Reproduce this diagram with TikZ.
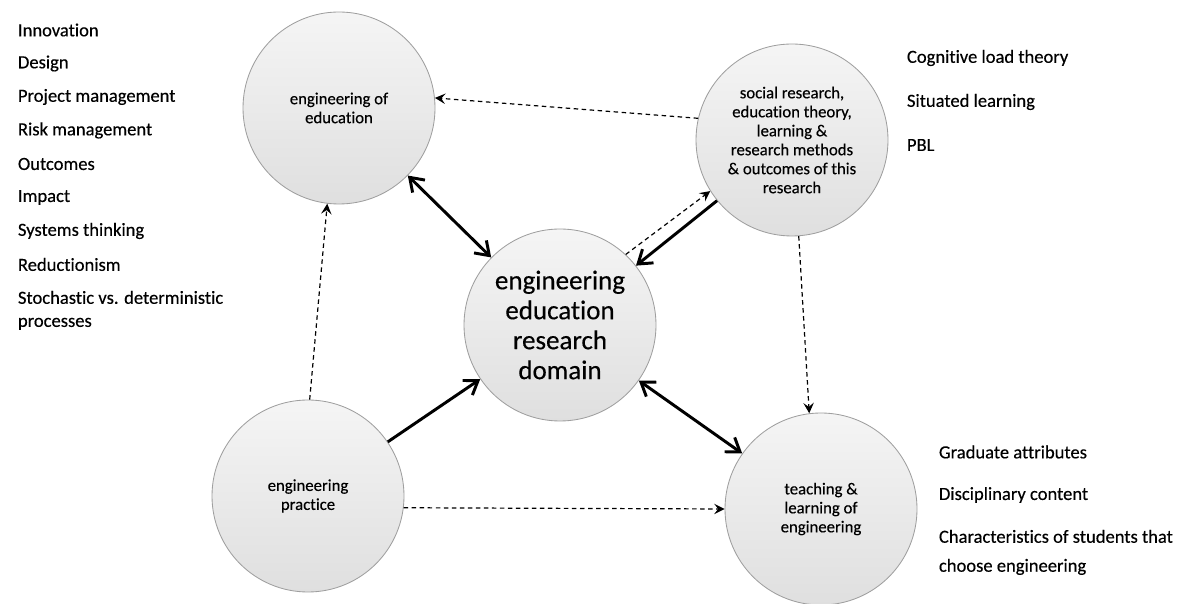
\documentclass[tikz,border=0pt]{standalone}
\usepackage{fontspec}
\setmainfont{Carlito}[Ligatures=NoCommon,FakeBold=0.35,BoldFont=Carlito]
\usetikzlibrary{arrows.meta}
\begin{document}
\begin{tikzpicture}[bubble/.style={circle,draw=gray!75,line width=0.6pt,top color=gray!8,bottom color=gray!25,minimum size=4.8cm,inner sep=0pt,align=center,font=\bfseries\fontsize{11.9}{13.5}\selectfont},
    item/.style={anchor=west,align=left,font=\bfseries\fontsize{13.2}{16.4}\selectfont},
    link/.style={line width=2.1pt},
    hint/.style={line width=0.85pt,dash pattern=on 3.2pt off 2.5pt,-{Stealth[length=2.6mm,width=2.6mm,inset=1mm]}},
    >={Straight Barb[length=3.2mm,width=4.4mm]}]

       \useasboundingbox (0,0) rectangle (29.5,15.1);

       \node[bubble] (edu) at (8.475, 12.4) {engineering of\\education};
       \node[bubble] (soc) at (19.8, 11.6) {social research,\\education theory,\\learning \&\\research methods\\\& outcomes of this\\research};
       \node[bubble,font=\bfseries\fontsize{19.2}{21.3}\selectfont] (eer) at (14.0, 6.975) {engineering\\education\\research\\domain};
       \node[bubble] (prac) at (7.7, 2.7) {engineering\\practice};
       \node[bubble] (teach) at (20.525, 2.375) {teaching \&\\learning of\\engineering};

       \foreach \txt [count=\i from 0] in {Innovation,Design,Project management,Risk management,Outcomes,Impact,Systems thinking,Reductionism}
         \node[item] (l\i) at (0.325, 14.35-0.8375*\i) {\txt};
       \node[item] (l8) at (0.325, 7.34) {Stochastic vs. deterministic\\processes};

       \node[item] (r0) at (22.55, 13.65) {Cognitive load theory};
       \node[item] (r1) at (22.55, 12.55) {Situated learning};
       \node[item] (r2) at (22.55, 11.475) {PBL};

       \node[item] (g0) at (23.35, 3.8) {Graduate attributes};
       \node[item] (g1) at (23.35, 2.725) {Disciplinary content};
       \node[item,font=\bfseries\fontsize{13.2}{20.6}\selectfont] (g2) at (23.35, 1.29) {Characteristics of students that\\choose engineering};

       \draw[link,<->] (edu) -- (eer);
       \draw[link,->] (soc.219) -- (eer.38);
       \draw[link,->] (prac) -- (eer);
       \draw[link,<->] (eer) -- (teach);

       \draw[hint] (soc.167) -- (edu.6);
       \draw[hint] (eer.47) -- (soc.212);
       \draw[hint] (prac.89) -- (edu.263);
       \draw[hint] (soc.274) -- (teach.97);
       \draw[hint] (prac.353) -- (teach.180);
     \end{tikzpicture}
\end{document}
